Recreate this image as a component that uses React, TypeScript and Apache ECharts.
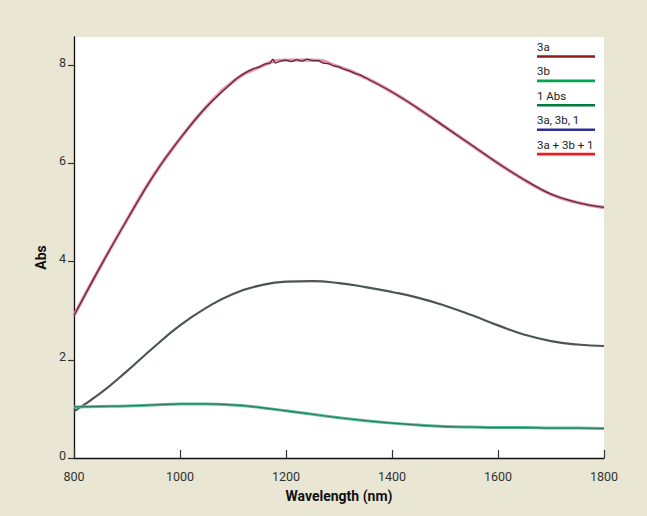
import React, { useEffect, useRef } from "react";
import * as echarts from "echarts";

// ---- data ----
const wavelengths = [800, 850, 900, 950, 1000, 1050, 1100, 1150, 1200, 1250, 1300, 1350, 1400, 1450, 1500, 1550, 1600, 1650, 1700, 1750, 1800];
const sumValues = [2.9, 3.9, 4.85, 5.75, 6.5, 7.15, 7.66, 7.96, 8.1, 8.1, 7.96, 7.74, 7.45, 7.11, 6.74, 6.37, 6.0, 5.66, 5.37, 5.2, 5.1];
const mixWavelengths = [800, 850, 900, 950, 1000, 1050, 1100, 1110, 1120, 1130, 1140, 1150, 1160, 1170, 1175, 1180, 1190, 1200, 1210, 1220, 1230, 1240, 1250, 1260, 1270, 1280, 1290, 1300, 1310, 1320, 1330, 1340, 1350, 1400, 1450, 1500, 1550, 1600, 1650, 1700, 1750, 1800];
const mixValues = [2.9, 3.9, 4.85, 5.75, 6.5, 7.15, 7.66, 7.75, 7.82, 7.88, 7.93, 7.96, 8.02, 8.04, 8.12, 8.04, 8.08, 8.1, 8.07, 8.11, 8.08, 8.12, 8.09, 8.09, 8.04, 8.03, 7.98, 7.96, 7.91, 7.88, 7.83, 7.8, 7.74, 7.45, 7.11, 6.74, 6.37, 6.0, 5.66, 5.37, 5.2, 5.1];
const abs3aValues = [0.95, 1.32, 1.77, 2.25, 2.7, 3.06, 3.34, 3.51, 3.59, 3.6, 3.56, 3.48, 3.38, 3.26, 3.1, 2.91, 2.7, 2.51, 2.38, 2.31, 2.28];
const abs3bValues = [1.04, 1.05, 1.06, 1.08, 1.1, 1.1, 1.08, 1.03, 0.96, 0.89, 0.82, 0.76, 0.71, 0.67, 0.64, 0.63, 0.62, 0.62, 0.61, 0.61, 0.6];
const yTicks = [0, 2, 4, 6, 8];
const legendNames = ["3a", "3b", "1 Abs", "3a, 3b, 1", "3a + 3b + 1"];
const legendColors = ["#8b1c1c", "#00a651", "#00793a", "#2e3192", "#ed1c24"];

const FONT = "Roboto, 'Liberation Sans Narrow', sans-serif";

function pairs(xs: number[], ys: number[]) {
  return xs.map((x, i) => [x, ys[i]]);
}

export default function App() {
  const ref = useRef<HTMLDivElement>(null);
  useEffect(() => {
    if (!ref.current) return;
    const chart = echarts.init(ref.current, null, { renderer: "svg" });
    const legendGraphics: any[] = [];
    legendNames.forEach((name, i) => {
      const ty = 48 + i * 24.4;
      legendGraphics.push({
        type: "text",
        left: 537,
        top: ty - 7,
        style: { text: name, fill: "#222", font: `11.5px ${FONT}` },
      });
      legendGraphics.push({
        type: "line",
        shape: { x1: 537, y1: ty + 8.5, x2: 595, y2: ty + 8.5 },
        style: { stroke: legendColors[i], lineWidth: 2.6 },
      });
    });
    chart.setOption({
      animation: false,
      backgroundColor: "#e9e6d4",
      grid: {
        left: 74,
        right: 43,
        top: 37,
        bottom: 58,
        show: true,
        backgroundColor: "#ffffff",
        borderWidth: 0,
      },
      xAxis: {
        type: "value",
        min: 800,
        max: 1800,
        interval: 200,
        name: "Wavelength (nm)",
        nameLocation: "middle",
        nameGap: 31,
        nameTextStyle: { fontFamily: FONT, fontWeight: "bold", fontSize: 14, color: "#111" },
        axisLine: { show: true, lineStyle: { color: "#111", width: 1.3 } },
        axisTick: { show: true, inside: true, length: 8, lineStyle: { color: "#333", width: 1.2 } },
        axisLabel: { fontFamily: FONT, fontSize: 12.5, color: "#333", margin: 12, formatter: (v: number) => String(v) },
        splitLine: { show: false },
      },
      yAxis: {
        type: "value",
        min: 0,
        max: 8.57,
        name: "Abs",
        nameLocation: "middle",
        nameGap: 24,
        nameTextStyle: { fontFamily: FONT, fontWeight: "bold", fontSize: 14, color: "#111", padding: [0, 20, 0, 0] },
        axisLine: { show: true, lineStyle: { color: "#111", width: 1.3 } },
        axisTick: { show: true, inside: false, length: 6, customValues: yTicks, lineStyle: { color: "#333", width: 1.2 } },
        axisLabel: { fontFamily: FONT, fontSize: 12.5, color: "#333", margin: 8, customValues: yTicks, verticalAlign: "bottom", lineHeight: 6 },
        splitLine: { show: false },
      },
      graphic: legendGraphics,
      series: [
        {
          name: "3a + 3b + 1",
          type: "line",
          data: pairs(wavelengths, sumValues),
          smooth: true,
          symbol: "none",
          lineStyle: { color: "#e891a6", width: 3.4 },
        },
        {
          name: "3a, 3b, 1",
          type: "line",
          data: pairs(mixWavelengths, mixValues),
          smooth: 0.3,
          symbol: "none",
          lineStyle: { color: "#5c2743", width: 1.3 },
        },
        {
          name: "3a",
          type: "line",
          data: pairs(wavelengths, abs3aValues),
          smooth: true,
          symbol: "none",
          lineStyle: { color: "#4b5650", width: 2.2 },
        },
        {
          name: "3b",
          type: "line",
          data: pairs(wavelengths, abs3bValues),
          smooth: true,
          symbol: "none",
          lineStyle: { color: "#5bbf98", width: 3 },
        },
        {
          name: "1 Abs",
          type: "line",
          data: pairs(wavelengths, abs3bValues),
          smooth: true,
          symbol: "none",
          lineStyle: { color: "#2f7a5e", width: 1.2 },
        },
      ],
    });
    return () => chart.dispose();
  }, []);
  return (
    <div
      ref={ref}
      style={{ position: "fixed", left: 0, top: 0, width: 647, height: 516 }}
    />
  );
}
